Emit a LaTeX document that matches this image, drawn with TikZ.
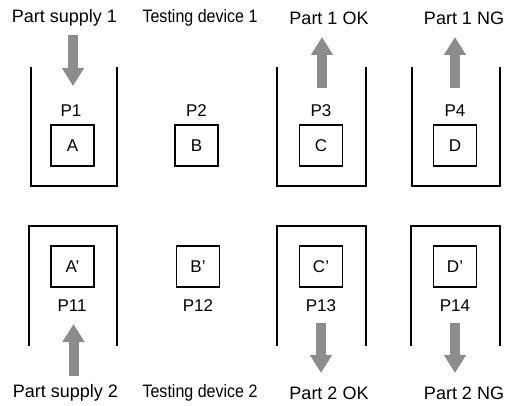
\documentclass[tikz,border=0pt]{standalone}
\usepackage{fontspec}
\setmainfont{Liberation Sans}
\usetikzlibrary{arrows.meta}
\newcommand{\narrowtxt}[1]{\scalebox{0.89}[1]{#1}}
\begin{document}
\begin{tikzpicture}[x=1pt,y=-1pt,
  lbl/.style={font=\fontsize{18}{20}\selectfont, inner sep=0pt, anchor=center},
  plbl/.style={font=\fontsize{17}{19}\selectfont, inner sep=0pt, anchor=center},
  pbox/.style={draw, line width=1.9pt, minimum width=43pt, minimum height=41pt, inner sep=0pt, font=\fontsize{17}{19}\selectfont},
  wall/.style={line width=2pt, line join=miter},
  flow/.style={line width=10pt, -{Triangle[width=21pt,length=18pt]}, color={rgb,255:red,140;green,140;blue,140}}
]
\useasboundingbox (0,0) rectangle (505,406);
% top labels
\node[lbl] (sup1) at (64.5,18) {Part supply 1};
\node[lbl] (test1) at (200,18) {\narrowtxt{Testing device 1}};
\node[lbl] (ok1) at (329,18) {Part 1 OK};
\node[lbl] (ng1) at (464,18) {Part 1 NG};
% bottom labels
\node[lbl] (sup2) at (65.5,393) {Part supply 2};
\node[lbl] (test2) at (200,393) {\narrowtxt{Testing device 2}};
\node[lbl] (ok2) at (329,393) {Part 2 OK};
\node[lbl] (ng2) at (464,393) {Part 2 NG};
% containers top (open at top)
\draw[wall] (31,67) -- (31,186) -- (117,186) -- (117,67);
\draw[wall] (277,67) -- (277,186) -- (366,186) -- (366,67);
\draw[wall] (412,67) -- (412,186) -- (500,186) -- (500,67);
% containers bottom (open at bottom)
\draw[wall] (29,346) -- (29,226) -- (117,226) -- (117,346);
\draw[wall] (277,346) -- (277,226) -- (366,226) -- (366,346);
\draw[wall] (411,346) -- (411,226) -- (500,226) -- (500,346);
% boxes top
\node[pbox] (A) at (72.5,145.5) {A};
\node[pbox] (B) at (196.5,145.5) {B};
\node[pbox] (C) at (321,145.5) {C};
\node[pbox] (D) at (455,145.5) {D};
% boxes bottom
\node[pbox] (A2) at (72.5,266.5) {A’};
\node[pbox] (B2) at (198,266.5) {B’};
\node[pbox] (C2) at (321,266.5) {C’};
\node[pbox] (D2) at (455,266.5) {D’};
% position labels
\node[plbl] (P1) at (71,111) {P1};
\node[plbl] (P2) at (196.5,111) {P2};
\node[plbl] (P3) at (321,111) {P3};
\node[plbl] (P4) at (455,111) {P4};
\node[plbl] (P11) at (72,306) {P11};
\node[plbl] (P12) at (198,306) {P12};
\node[plbl] (P13) at (321,306) {P13};
\node[plbl] (P14) at (455,306) {P14};
% arrow ends
\coordinate (a1s) at (73,35);   \coordinate (a1e) at (73,86);
\coordinate (a3s) at (322,88);  \coordinate (a3e) at (322,37);
\coordinate (a4s) at (455,88);  \coordinate (a4e) at (455,37);
\coordinate (b1s) at (73.5,376); \coordinate (b1e) at (73.5,324);
\coordinate (b3s) at (321,323); \coordinate (b3e) at (321,373);
\coordinate (b4s) at (455,323); \coordinate (b4e) at (455,373);
\draw[flow] (a1s) -- (a1e);
\draw[flow] (a3s) -- (a3e);
\draw[flow] (a4s) -- (a4e);
\draw[flow] (b1s) -- (b1e);
\draw[flow] (b3s) -- (b3e);
\draw[flow] (b4s) -- (b4e);
\end{tikzpicture}
\end{document}
